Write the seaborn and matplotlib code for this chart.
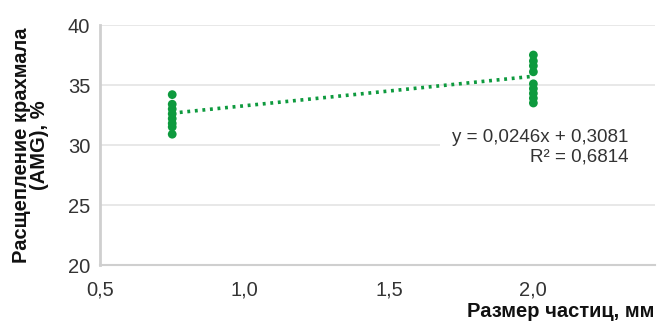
import numpy as np
import pandas as pd
import matplotlib
matplotlib.use("Agg")
import matplotlib.pyplot as plt
import seaborn as sns
from matplotlib.patches import Rectangle

# Particle size (mm) and starch degradation (%) measurements
size_small = [0.75] * 8
amg_small = [34.2, 33.4, 33.0, 32.6, 32.2, 31.8, 31.5, 30.9]
size_large = [2.0] * 9
amg_large = [37.5, 37.0, 36.6, 36.1, 35.1, 34.7, 34.3, 33.9, 33.5]

# Linear trend (fractions): y = slope * x + intercept
slope = 0.0246
intercept = 0.3081
r_squared = 0.6814

x_ticks = [0.5, 1.0, 1.5, 2.0]
x_tick_labels = ["0,5", "1,0", "1,5", "2,0"]
y_ticks = [20, 25, 30, 35, 40]
y_tick_labels = ["20", "25", "30", "35", "40"]

df = pd.DataFrame({
    "size": size_small + size_large,
    "amg": amg_small + amg_large,
})
trend_x = np.array([min(df["size"]), max(df["size"])])
trend = pd.DataFrame({"size": trend_x, "amg": (slope * trend_x + intercept) * 100})

sns.set_style("white")
plt.rcParams["font.family"] = ["Liberation Sans", "DejaVu Sans"]

green = "#0e9a3e"
grey_txt = "#333333"
axis_grey = "#cfcfcf"

fig = plt.figure(figsize=(6.6, 3.27), dpi=100)
ax = fig.add_axes([0.1515, 0.1896, 0.8405, 0.7339])

ax.set_xlim(0.5, 2.42)
ax.set_ylim(20, 40)
for yv in y_ticks[1:]:
    ax.axhline(yv, color="#e4e4e4", lw=1.2, zorder=0)

sns.lineplot(data=trend, x="size", y="amg", ax=ax, color=green, lw=2.6,
             linestyle=(0, (0.8, 1.3)), zorder=2)
sns.scatterplot(data=df, x="size", y="amg", ax=ax, color=green, s=40,
                edgecolor="none", zorder=3)

ax.set_xticks(x_ticks)
ax.set_xticklabels(x_tick_labels)
ax.set_yticks(y_ticks)
ax.set_yticklabels(y_tick_labels)
ax.tick_params(axis="both", labelsize=14.5, colors=axis_grey, labelcolor=grey_txt,
               length=4, width=1.2, direction="out", pad=3)
ax.tick_params(axis="x", pad=7)

for side in ["top", "right"]:
    ax.spines[side].set_visible(False)
ax.spines["left"].set_color(axis_grey)
ax.spines["left"].set_linewidth(2)
ax.spines["bottom"].set_color(axis_grey)
ax.spines["bottom"].set_linewidth(1.5)

ax.set_xlabel("")
ax.set_ylabel("")

# Equation box covering the grid behind it
ax.add_patch(Rectangle((0.613, 0.38), 0.39, 0.16, transform=ax.transAxes,
                       facecolor="white", edgecolor="none", zorder=1))
eq = f"y = {slope:.4f}x + {intercept:.4f}".replace(".", ",")
r2 = f"R² = {r_squared:.4f}".replace(".", ",")
ax.text(2.33, 30.6, eq, ha="right", va="center", fontsize=13.5,
        color=grey_txt, zorder=4)
ax.text(2.33, 29.0, r2, ha="right", va="center", fontsize=13.5,
        color=grey_txt, zorder=4)

fig.text(0.046, 0.555, "Расщепление крахмала\n(AMG), %", rotation=90,
         ha="center", va="center", fontsize=14.5, fontweight="bold",
         color="#111111", linespacing=0.9)
fig.text(0.992, 0.018, "Размер частиц, мм", ha="right", va="bottom",
         fontsize=14.5, fontweight="bold", color="#111111")

fig.savefig("out.png", dpi=100)
